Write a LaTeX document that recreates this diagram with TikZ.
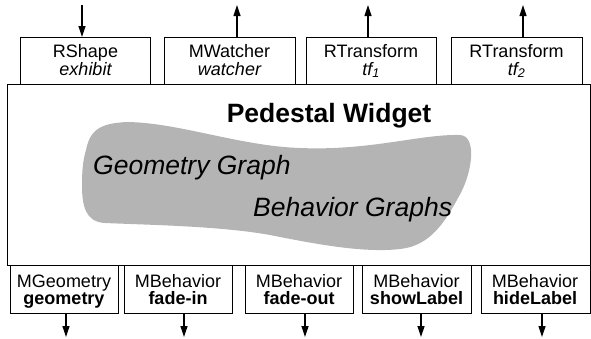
\documentclass[tikz,border=0pt]{standalone}
\usepackage{fontspec}
\setmainfont{Liberation Sans}
\usetikzlibrary{arrows.meta}
\definecolor{blobgray}{HTML}{B4B4B4}
\begin{document}
\begin{tikzpicture}[x=1pt,y=-1pt,
  frame/.style={draw,line width=1.2pt,rectangle,inner sep=0pt,anchor=north west},
  topbox/.style={frame,minimum height=47pt},
  botbox/.style={frame,minimum height=48pt},
  boxtext/.style={anchor=base,inner sep=0pt,font=\fontsize{18}{20}\selectfont},
  bigtext/.style={anchor=base,inner sep=0pt},
  arr/.style={line width=1.2pt,-{Triangle[length=11pt,width=7pt]}}]
\useasboundingbox (0,0) rectangle (591,338);

% pedestal body and the graph blob inside it
\node[frame,minimum width=583pt,minimum height=181pt] (ped) at (7,84) {};
\fill[blobgray] (86,150) .. controls (90,130) and (100,123) .. (128,122)
  .. controls (180,123) and (240,146) .. (300,148)
  .. controls (370,151) and (420,134) .. (460,135)
  .. controls (478,136) and (472,175) .. (458,198)
  .. controls (445,222) and (430,246) .. (400,249)
  .. controls (365,253) and (320,245) .. (270,235)
  .. controls (220,226) and (150,225) .. (105,223)
  .. controls (85,222) and (82,205) .. (82,185)
  .. controls (82,170) and (83,160) .. (86,150) -- cycle;
\node[bigtext,font=\fontsize{26.5}{30}\selectfont\bfseries] (title) at (329,122) {Pedestal Widget};
\node[bigtext,anchor=base west,font=\fontsize{26.5}{30}\selectfont\itshape] (geo) at (93,174) {Geometry Graph};
\node[bigtext,anchor=base west,font=\fontsize{26.5}{30}\selectfont\itshape] (beh) at (253,216) {Behavior Graphs};

% top row
\node[topbox,minimum width=130pt] (t1) at (20,37) {};
\node[topbox,minimum width=131pt] (t2) at (164,37) {};
\node[topbox,minimum width=130pt] (t3) at (306,37) {};
\node[topbox,minimum width=131pt] (t4) at (451,37) {};
\node[boxtext] (t1a) at (85.5,57) {RShape};
\node[boxtext] (t1b) at (85.5,75) {\itshape exhibit};
\node[boxtext] (t2a) at (229.5,57) {MWatcher};
\node[boxtext] (t2b) at (229.5,75) {\itshape watcher};
\node[boxtext] (t3a) at (371,57) {RTransform};
\node[boxtext] (t3b) at (371,75) {\itshape tf$_{\mathit{1}}$};
\node[boxtext] (t4a) at (516.5,57) {RTransform};
\node[boxtext] (t4b) at (516.5,75) {\itshape tf$_{\mathit{2}}$};

% bottom row
\node[botbox,minimum width=108pt] (b1) at (10,265) {};
\node[botbox,minimum width=108pt] (b2) at (124,265) {};
\node[botbox,minimum width=108pt] (b3) at (245,265) {};
\node[botbox,minimum width=109pt] (b4) at (362,265) {};
\node[botbox,minimum width=108.5pt] (b5) at (481,265) {};
\node[boxtext] (b1a) at (64,287) {MGeometry};
\node[boxtext] (b1b) at (64,304) {\bfseries geometry};
\node[boxtext] (b2a) at (178,287) {MBehavior};
\node[boxtext] (b2b) at (178,304) {\bfseries fade-in};
\node[boxtext] (b3a) at (299,287) {MBehavior};
\node[boxtext] (b3b) at (299,304) {\bfseries fade-out};
\node[boxtext] (b4a) at (416.5,287) {MBehavior};
\node[boxtext] (b4b) at (416.5,304) {\bfseries showLabel};
\node[boxtext] (b5a) at (535,287) {MBehavior};
\node[boxtext] (b5b) at (535,304) {\bfseries hideLabel};

% connector ends
\coordinate (in1) at (82,5);
\coordinate (out2) at (237,5);
\coordinate (out3) at (368,5);
\coordinate (out4) at (523,5);
\coordinate (o1) at (66,337);
\coordinate (o2) at (184,337);
\coordinate (o3) at (305,337);
\coordinate (o4) at (421,337);
\coordinate (o5) at (542,337);

\draw[arr] (in1) -- (in1 |- t1.north);
\draw[arr] (out2 |- t2.north) -- (out2);
\draw[arr] (out3 |- t3.north) -- (out3);
\draw[arr] (out4 |- t4.north) -- (out4);
\draw[arr] (o1 |- b1.south) -- (o1);
\draw[arr] (o2 |- b2.south) -- (o2);
\draw[arr] (o3 |- b3.south) -- (o3);
\draw[arr] (o4 |- b4.south) -- (o4);
\draw[arr] (o5 |- b5.south) -- (o5);
\end{tikzpicture}
\end{document}
